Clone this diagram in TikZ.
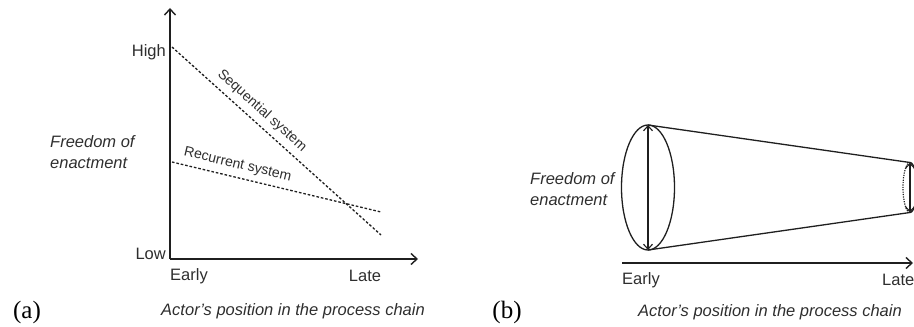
\documentclass[tikz,border=0pt]{standalone}
\usepackage{fontspec}
\setmainfont{Liberation Serif}
\setsansfont{Liberation Sans}
\usetikzlibrary{arrows.meta}
\definecolor{ink}{gray}{0.12}
\definecolor{txt}{gray}{0.18}
\begin{document}
\begin{tikzpicture}[x=1pt,y=1pt,
  axis/.style={draw=ink,line width=1.5pt,-{Straight Barb[length=6pt,width=11pt,line width=1.4pt]}},
  curve/.style={draw=ink,line width=1.3pt,dash pattern=on 2.6pt off 1.9pt},
  cone/.style={draw=ink,line width=1.3pt},
  span/.style={draw=ink,line width=1.2pt,{Straight Barb[length=5pt,width=9pt,line width=1.1pt]}-{Straight Barb[length=5pt,width=9pt,line width=1.1pt]}},
  lbl/.style={text=txt,font=\sffamily\fontsize{16.5}{20.5}\selectfont,inner sep=0pt},
  ilbl/.style={lbl,font=\sffamily\itshape\fontsize{16.5}{20.5}\selectfont},
  slbl/.style={text=txt,font=\sffamily\fontsize{14}{16}\selectfont,inner sep=1.5pt},
  tag/.style={text=black,font=\rmfamily\fontsize{25}{28}\selectfont,inner sep=0pt}]
\useasboundingbox (0,0) rectangle (914,327);

% ---------- (a) freedom of enactment vs. position, two systems ----------
\coordinate (O)  at (170,68);
\coordinate (Ytop) at (170,319);
\coordinate (Xend) at (418,68);
\draw[axis] (O) -- (Ytop);
\draw[axis] (O) -- (Xend);

\node[lbl,anchor=east] (high) at (166,275) {High};
\node[lbl,anchor=east] (low) at (166,73) {Low};
\node[lbl,anchor=west] (earlyA) at (170,51) {Early};
\node[lbl] (lateA) at (365,51) {Late};
\node[ilbl,anchor=west,align=left] (freeA) at (50,175) {Freedom of\\enactment};
\node[ilbl] (actorA) at (293,16) {Actor’s position in the process chain};
\node[tag] (tagA) at (27,15) {(a)};

\coordinate (s0) at (172,280);
\coordinate (s1) at (381,92);
\coordinate (r0) at (172,165);
\coordinate (r1) at (381,115);
\draw[curve] (s0) -- node[slbl,sloped,above=4pt,pos=0.39] (seq) {Sequential system} (s1);
\draw[curve] (r0) -- node[slbl,sloped,above=4pt,pos=0.30] (rec) {Recurrent system} (r1);

% ---------- (b) the narrowing cone ----------
\coordinate (Ec) at (648,139.5);
\coordinate (Et) at (648,202);
\coordinate (Eb) at (648,77);
\coordinate (Lc) at (910,139.5);
\coordinate (Lt) at (910,164.5);
\coordinate (Lb) at (910,114.5);

\draw[cone] (Ec) ellipse [x radius=26.5, y radius=62.5];
\draw[cone] (Lt) arc[start angle=90, end angle=-90, x radius=7, y radius=25];
\draw[ink,line width=1.2pt,dash pattern=on 1.2pt off 1.2pt] (Lt) arc[start angle=90, end angle=270, x radius=7, y radius=25];
\draw[cone] (Et) -- (Lt);
\draw[cone] (Eb) -- (Lb);
\draw[span] (Eb) -- (Et);
\draw[span] (Lb) -- (Lt);

\coordinate (Bx0) at (622,64);
\coordinate (Bx1) at (913,64);
\draw[axis] (Bx0) -- (Bx1);

\node[lbl,anchor=west] (earlyB) at (622,47) {Early};
\node[lbl,anchor=west] (lateB) at (882,47) {Late};
\node[ilbl,anchor=west,align=left] (freeB) at (530,138) {Freedom of\\enactment};
\node[ilbl] (actorB) at (770,15) {Actor’s position in the process chain};
\node[tag] (tagB) at (507,15) {(b)};
\end{tikzpicture}
\end{document}
